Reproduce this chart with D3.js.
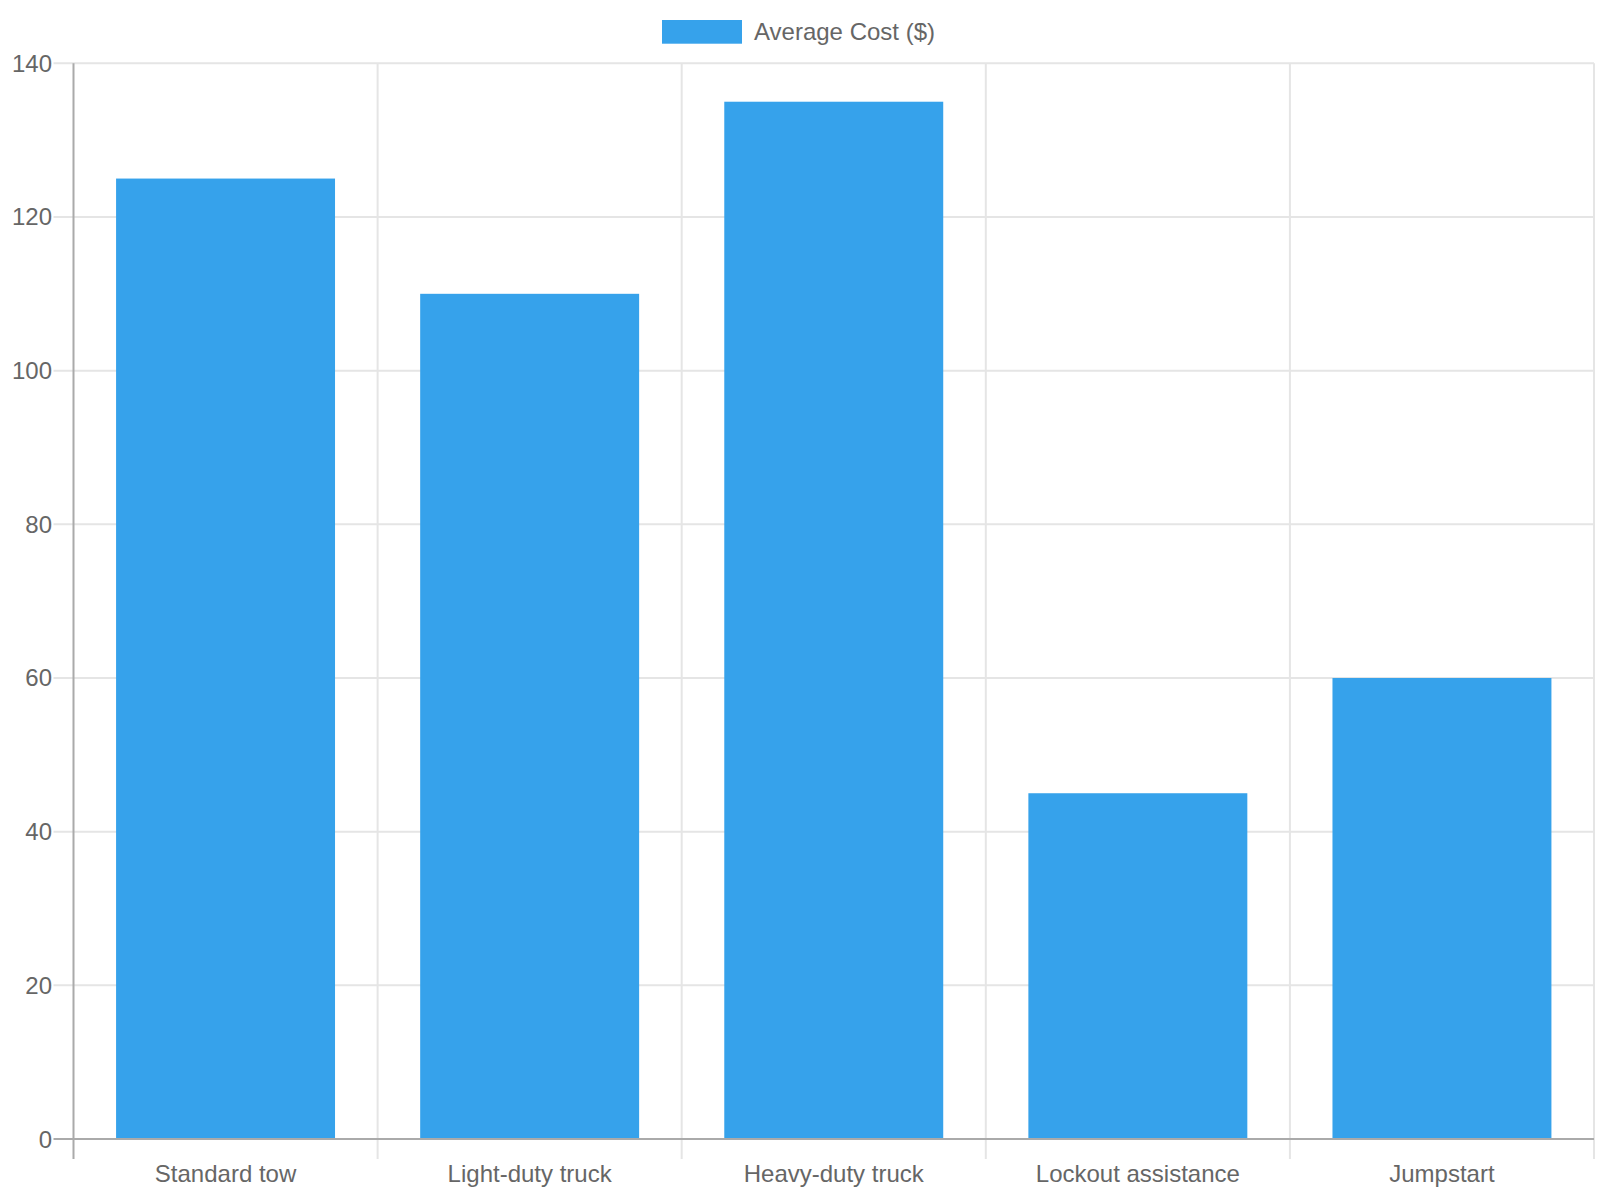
<!DOCTYPE html>
<html>
<head>
<meta charset="utf-8">
<script src="https://cdn.jsdelivr.net/npm/d3@7/dist/d3.min.js"></script>
<style>
html,body{margin:0;padding:0;background:#fff;}
svg{display:block;}
text{font-family:"Liberation Sans",Arial,Helvetica,sans-serif;fill:#666;}
</style>
</head>
<body>
<svg id="chart" width="1600" height="1200"></svg>
<script>
const categories = ["Standard tow", "Light-duty truck", "Heavy-duty truck", "Lockout assistance", "Jumpstart"];
const values = [125, 110, 135, 45, 60];
const yTicks = [0, 20, 40, 60, 80, 100, 120, 140];
const seriesName = "Average Cost ($)";

const svg = d3.select("#chart");
const plotLeft = 73.5, plotRight = 1594, plotTop = 63.3, plotBottom = 1139;
const barColor = "#36a2eb";
const gridColor = "#e5e5e5";
const axisColor = "#aaaaaa";

const x = d3.scaleBand().domain(categories).range([plotLeft, plotRight]).padding(0);
const y = d3.scaleLinear().domain([0, 140]).range([plotBottom, plotTop]);

// horizontal gridlines (extend left as tick marks)
svg.append("g").selectAll("line").data(yTicks.filter(t => t !== 0)).join("line")
  .attr("x1", plotLeft - 20).attr("x2", plotRight)
  .attr("y1", d => y(d)).attr("y2", d => y(d))
  .attr("stroke", gridColor).attr("stroke-width", 2);

// vertical gridlines
const vLines = categories.map(c => x(c)).concat([plotRight]);
svg.append("g").selectAll("line").data(vLines.slice(1)).join("line")
  .attr("x1", d => d).attr("x2", d => d)
  .attr("y1", plotTop).attr("y2", plotBottom + 20)
  .attr("stroke", gridColor).attr("stroke-width", 2);

// bars
const bw = x.bandwidth();
svg.append("g").selectAll("rect").data(values).join("rect")
  .attr("x", (d, i) => x(categories[i]) + bw * 0.14)
  .attr("width", bw * 0.72)
  .attr("y", d => y(d))
  .attr("height", d => y(0) - y(d))
  .attr("fill", barColor);

// axes lines
svg.append("line").attr("x1", plotLeft).attr("x2", plotLeft).attr("y1", plotTop).attr("y2", plotBottom + 20)
  .attr("stroke", axisColor).attr("stroke-width", 2);
svg.append("line").attr("x1", plotLeft - 20).attr("x2", plotRight).attr("y1", y(0)).attr("y2", y(0))
  .attr("stroke", axisColor).attr("stroke-width", 2);

// y tick labels
svg.append("g").selectAll("text").data(yTicks).join("text")
  .attr("x", 52).attr("y", d => y(d) + 8.5)
  .attr("text-anchor", "end").attr("font-size", 24)
  .text(d => d);

// x tick labels
svg.append("g").selectAll("text").data(categories).join("text")
  .attr("x", d => x(d) + bw / 2).attr("y", 1182)
  .attr("text-anchor", "middle").attr("font-size", 24)
  .text(d => d);

// legend
svg.append("rect").attr("x", 662).attr("y", 20).attr("width", 80).attr("height", 23.7).attr("fill", barColor);
svg.append("text").attr("x", 754).attr("y", 40).attr("font-size", 24).text(seriesName);
</script>
</body>
</html>
